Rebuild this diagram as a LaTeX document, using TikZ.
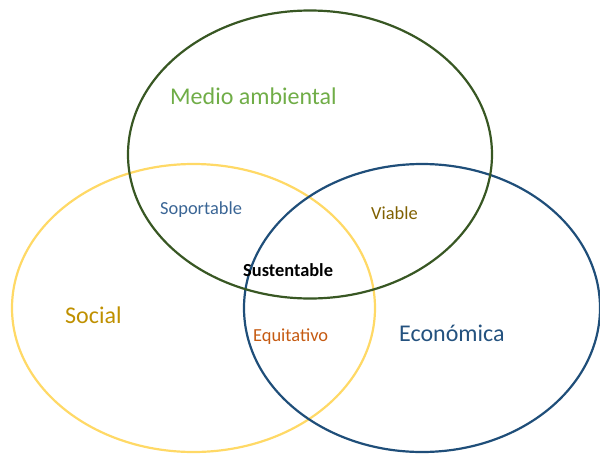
\documentclass[tikz,border=0pt]{standalone}
\usepackage{fontspec}
\setmainfont{Carlito}
\usetikzlibrary{shapes.geometric}
\definecolor{cgreen}{HTML}{385723}
\definecolor{cyellow}{HTML}{FFD966}
\definecolor{cblue}{HTML}{1F4E79}
\definecolor{tgreen}{HTML}{70AD47}
\definecolor{tgold}{HTML}{BF9000}
\definecolor{torange}{HTML}{C55A11}
\definecolor{tbrown}{HTML}{7F6000}
\definecolor{tblue}{HTML}{3A6595}
\definecolor{tblue2}{HTML}{24527F}
\tikzset{
  venn/.style={ellipse, draw, line width=2.2pt, inner sep=0pt, minimum width=364pt, minimum height=288pt},
  big/.style={anchor=base west, inner sep=0pt, font=\fontsize{24}{28}\selectfont},
  small/.style={anchor=base west, inner sep=0pt, font=\fontsize{18.4}{22}\selectfont}
}
\begin{document}
\begin{tikzpicture}[x=1pt,y=-1pt]
\useasboundingbox (0,0) rectangle (600,453);
\node[venn, draw=cyellow, minimum width=363pt] (soc) at (193.5,308) {};
\node[venn, draw=cblue, minimum width=356pt] (eco) at (422,308) {};
\node[venn, draw=cgreen] (med) at (310,154.5) {};
\node[big, text=tgreen] (tmed) at (170,104) {Medio ambiental};
\node[big, text=tgold] (tsoc) at (65,323) {Social};
\node[big, text=tblue2] (teco) at (399,341) {Económica};
\node[small, text=tblue] (tsop) at (160,214) {Soportable};
\node[small, text=tbrown] (tvia) at (371,219) {Viable};
\node[small, font=\fontsize{18.4}{22}\selectfont\bfseries] (tsus) at (243,276) {Sustentable};
\node[small, text=torange] (tequ) at (253,341.5) {Equitativo};
\end{tikzpicture}
\end{document}
